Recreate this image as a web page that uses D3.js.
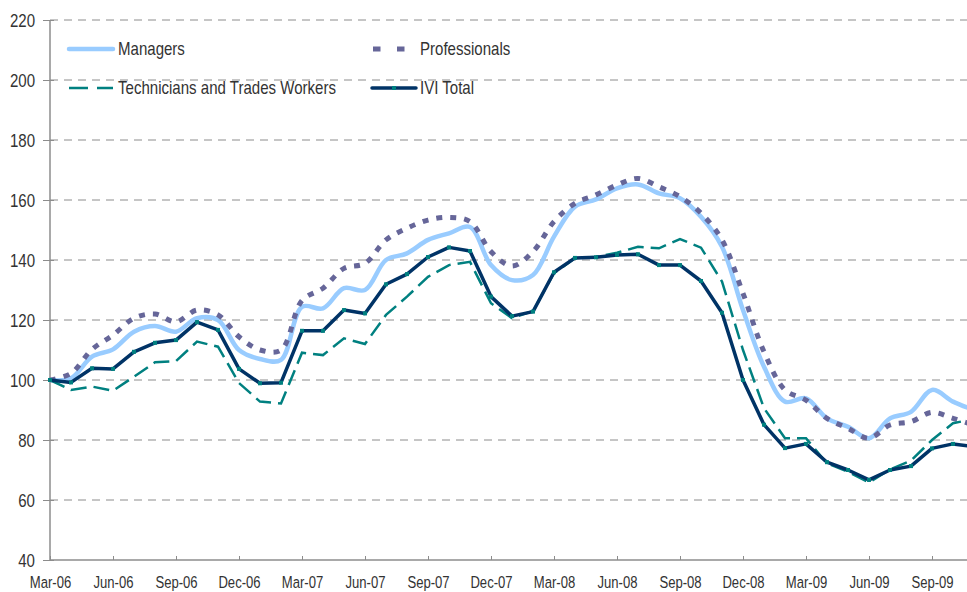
<!DOCTYPE html>
<html><head><meta charset="utf-8">
<script src="https://cdn.jsdelivr.net/npm/d3@7"></script>
<style>body{margin:0;background:#fff}svg{display:block}</style>
</head><body><svg id="c" width="967" height="592"></svg>
<script>
const months = ["Mar-06","Apr-06","May-06","Jun-06","Jul-06","Aug-06","Sep-06","Oct-06","Nov-06","Dec-06",
"Jan-07","Feb-07","Mar-07","Apr-07","May-07","Jun-07","Jul-07","Aug-07","Sep-07","Oct-07","Nov-07","Dec-07",
"Jan-08","Feb-08","Mar-08","Apr-08","May-08","Jun-08","Jul-08","Aug-08","Sep-08","Oct-08","Nov-08","Dec-08",
"Jan-09","Feb-09","Mar-09","Apr-09","May-09","Jun-09","Jul-09","Aug-09","Sep-09","Oct-09","Nov-09"];
const tickLabels = ["Mar-06","Jun-06","Sep-06","Dec-06","Mar-07","Jun-07","Sep-07","Dec-07","Mar-08","Jun-08","Sep-08","Dec-08","Mar-09","Jun-09","Sep-09"];
const yTicks = [40,60,80,100,120,140,160,180,200,220];
const managers = [100,100.6,107.8,110.2,116.1,118,116.1,120.6,120,110,107,106.7,124.4,123.9,130.6,130,140,142.2,146.7,148.9,151,138.3,133.3,135,147.8,157.8,160.2,163.9,165.2,162.2,160.6,154.4,144.4,123.3,104.4,92.8,93.9,87.2,84.4,80.6,87.2,89.4,96.7,92.8,90];
const professionals = [100,102.2,110.2,115,120.6,122,119.4,123.3,121.7,114.4,110,110,126.5,130.6,137.2,138.9,146.7,150.6,153.3,154.2,152.8,142.8,138,142.8,152.8,158.9,161.7,165,167.2,164.4,161.1,155.6,146.7,128.9,109.4,96.7,93.3,87.2,83.9,80.6,85,86.1,89.2,87.2,85];
const technicians = [100,96.7,97.8,96.4,101.1,105.9,106.3,112.8,111.1,99,92.8,92.2,109.1,108.3,113.9,112,121.7,127.8,134.4,138.3,139.4,125.6,120.6,123,135.6,140.6,141.1,142.4,144.4,143.9,147,144.1,132.8,110,90.6,80.6,80.6,72.2,69.4,65.8,70.2,73.1,80,85.6,87];
const iviTotal = [100,99.2,103.9,103.7,109.4,112.4,113.3,119.3,116.7,103.7,98.9,99.1,116.4,116.4,123.3,122.2,131.9,135.3,141,144.2,143,127.8,121.3,122.8,135.9,140.7,140.9,141.7,141.9,138.3,138.3,133,122.4,100,85.1,77.3,78.7,72.6,70,66.7,70,71.3,77.2,78.7,77.8];
const seriesNames = ["Managers","Professionals","Technicians and Trades Workers","IVI Total"];

const FONT = '"Liberation Sans Narrow","Arial Narrow","Liberation Sans",Arial,sans-serif';
const svg = d3.select("#c");
const W = 967;
const x = d3.scalePoint().domain(months).range([50, 974]);
const y = d3.scaleLinear().domain([40, 220]).range([560, 20]);

// gridlines
svg.append("g").selectAll("line").data(yTicks.filter(d => d > 40)).join("line")
  .attr("x1", 50).attr("x2", W).attr("y1", d => y(d)).attr("y2", d => y(d))
  .attr("stroke", "#8c8c8c").attr("stroke-width", 1).attr("stroke-dasharray", "8,6");

// y axis
const ys = 0.86;
const ya = svg.append("g").attr("transform", "translate(50,0)")
  .call(d3.axisLeft(y).tickValues(yTicks).tickSize(7).tickPadding(7));
ya.select(".domain").attr("stroke", "#8c8c8c").attr("stroke-width", 1.5).attr("d", `M0,${y(220)}V${y(40)}`);
ya.selectAll(".tick line").attr("stroke", "#8c8c8c").attr("x1", 4);
ya.selectAll(".tick text").attr("font-family", FONT).attr("font-size", 17.5).attr("fill", "#333")
  .attr("x", -15 / ys).attr("dy", "0.36em").attr("transform", `scale(${ys},1)`);

// x axis
const xs = 0.77;
const xa = svg.append("g").attr("transform", "translate(0,560)")
  .call(d3.axisBottom(x).tickValues(tickLabels).tickSize(-4).tickPadding(13));
xa.select(".domain").attr("stroke", "#8c8c8c").attr("stroke-width", 1.5).attr("d", `M50,0H${W}`);
xa.selectAll(".tick line").attr("stroke", "#8c8c8c");
xa.selectAll(".tick text").attr("font-family", FONT).attr("font-size", 17).attr("fill", "#333")
  .attr("dy", null).attr("y", 28).attr("transform", `scale(${xs},1)`);

const smooth = d3.line().x((d, i) => x(months[i])).y(d => y(d)).curve(d3.curveCatmullRom.alpha(0.5));
const straight = d3.line().x((d, i) => x(months[i])).y(d => y(d));

const g = svg.append("g");
g.append("path").datum(managers).attr("d", smooth).attr("fill", "none")
  .attr("stroke", "#99ccff").attr("stroke-width", 4.5).attr("stroke-linejoin", "round");
g.append("path").datum(professionals).attr("d", smooth).attr("fill", "none")
  .attr("stroke", "#666699").attr("stroke-width", 5).attr("stroke-dasharray", "6,8");
g.append("path").datum(technicians).attr("d", straight).attr("fill", "none")
  .attr("stroke", "#008080").attr("stroke-width", 2.5).attr("stroke-dasharray", "16,7");
g.append("path").datum(iviTotal).attr("d", straight).attr("fill", "none")
  .attr("stroke", "#003366").attr("stroke-width", 3.5).attr("stroke-linejoin", "round");
g.selectAll("rect.m").data(iviTotal).join("rect").attr("class", "m")
  .attr("x", (d, i) => x(months[i]) - 2).attr("y", d => y(d) - 2)
  .attr("width", 4).attr("height", 4).attr("fill", "#008080");

// legend
const ls = 0.86;
const leg = svg.append("g");
const items = [
  {name: seriesNames[0], x: 69, y: 49, tx: 118, stroke: "#99ccff", w: 4.5, dash: null},
  {name: seriesNames[1], x: 373, y: 49, tx: 420, stroke: "#666699", w: 5, dash: "7.5,16.5"},
  {name: seriesNames[2], x: 69, y: 88, tx: 118, stroke: "#008080", w: 2.5, dash: "19,9"},
  {name: seriesNames[3], x: 372, y: 88, tx: 420, stroke: "#003366", w: 3.5, dash: null, marker: true}
];
items.forEach(it => {
  leg.append("line").attr("x1", it.x).attr("x2", it.x + 44).attr("y1", it.y).attr("y2", it.y)
    .attr("stroke", it.stroke).attr("stroke-width", it.w)
    .attr("stroke-dasharray", it.dash).attr("stroke-linecap", it.dash ? "butt" : "round");
  if (it.marker) leg.append("rect").attr("x", it.x + 20).attr("y", it.y - 2).attr("width", 4).attr("height", 4).attr("fill", "#008080");
  leg.append("text").attr("transform", `translate(${it.tx},${it.y}) scale(${ls},1)`).attr("dy", "0.36em")
    .attr("font-family", FONT).attr("font-size", 17.5).attr("fill", "#333").text(it.name);
});
</script></body></html>
